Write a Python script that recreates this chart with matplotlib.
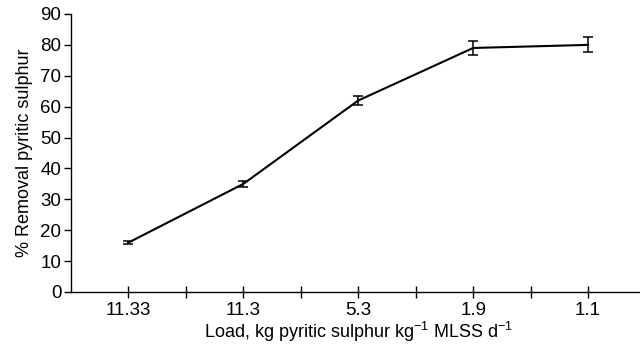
import matplotlib
matplotlib.use("Agg")
import matplotlib.pyplot as plt

categories = ["11.33", "11.3", "5.3", "1.9", "1.1"]
removal = [16, 35, 62, 79, 80]
errors = [0.5, 1.0, 1.6, 2.3, 2.4]
yticks = list(range(0, 91, 10))

plt.rcParams['font.family'] = ['Liberation Sans', 'DejaVu Sans']
plt.rcParams['mathtext.fontset'] = 'custom'
plt.rcParams['mathtext.rm'] = 'Liberation Sans'

fig = plt.figure(figsize=(6.4, 3.44), dpi=100)
ax = fig.add_axes([71/640, 52/344, 574.5/640, 278/344])
x = list(range(len(categories)))
ax.errorbar(x, removal, yerr=errors, color='black', lw=1.5, elinewidth=1.1,
            capsize=3.5, capthick=1.1)
ax.set_xlim(-0.5, len(categories) - 0.5)
ax.set_ylim(0, 90)
ax.set_yticks(yticks)
ax.set_xticks(x)
ax.set_xticklabels(categories)
ax.set_xticks([i + 0.5 for i in x[:-1]], minor=True)
ax.spines['top'].set_visible(False)
ax.spines['right'].set_visible(False)
ax.spines['left'].set_linewidth(1.0)
ax.spines['bottom'].set_linewidth(1.0)
ax.tick_params(axis='y', direction='out', length=5, width=1, labelsize=13.5, pad=2)
ax.tick_params(axis='x', which='both', direction='inout', length=8, width=1, labelsize=13.5, pad=3)
ax.set_ylabel('% Removal pyritic sulphur', fontsize=13, labelpad=5)
ax.set_xlabel('Load, kg pyritic sulphur kg$^{\\mathrm{-1}}$ MLSS d$^{\\mathrm{-1}}$',
              fontsize=13, labelpad=1)
fig.savefig('out.png', dpi=100)
